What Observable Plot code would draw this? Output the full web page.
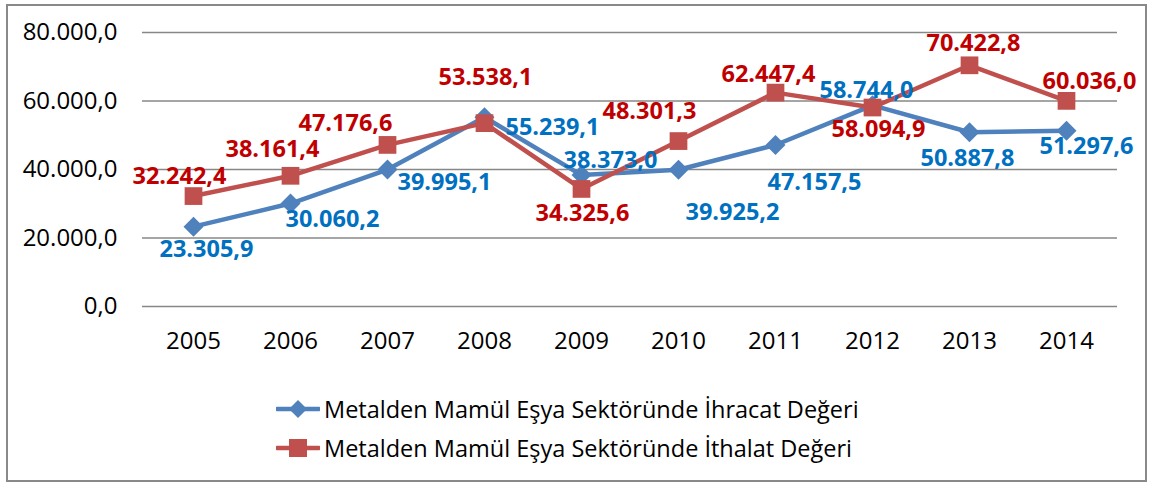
<!DOCTYPE html>
<html><head><meta charset="utf-8">
<script src="https://cdn.jsdelivr.net/npm/d3@7"></script>
<script src="https://cdn.jsdelivr.net/npm/@observablehq/plot@0.6"></script>
<style>
body{margin:0;background:#fff;font-family:"Open Sans",sans-serif;}
#frame{position:absolute;left:6px;top:4px;width:1137px;height:474px;border:2px solid #898989;}
#chart{position:absolute;left:0;top:0;}
#legend{position:absolute;left:276px;top:389px;font-family:"Open Sans",sans-serif;font-size:23.5px;color:#000;}
.row{display:flex;align-items:center;height:39px;}
.row svg{margin-right:4px;}
</style></head><body>
<div id="frame"></div><div id="chart"></div><div id="legend"></div>
<script>
const years = ["2005","2006","2007","2008","2009","2010","2011","2012","2013","2014"];
const exportValues = [23305.9, 30060.2, 39995.1, 55239.1, 38373.0, 39925.2, 47157.5, 58744.0, 50887.8, 51297.6];
const importValues = [32242.4, 38161.4, 47176.6, 53538.1, 34325.6, 48301.3, 62447.4, 58094.9, 70422.8, 60036.0];
const yTicks = [0, 20000, 40000, 60000, 80000];
const seriesNames = ["Metalden Mamül Eşya Sektöründe İhracat Değeri", "Metalden Mamül Eşya Sektöründe İthalat Değeri"];

// label placement offsets (pixels) — styling only
const exportLabelOffsets = [[13,23],[42,16],[57,13],[68,10],[29,-15],[54,43],[39,37],[-6,-15],[-2,26],[20,16]];
const importLabelOffsets = [[-14,-20],[-18,-26],[-42,-21],[1,-46],[1,25],[-29,-30],[-7,-18],[6,22],[4,-22],[23,-19]];

const blue = "#4F81BD", red = "#C0504D", blueText = "#0070C0", redText = "#C00000";

const tr = d3.formatLocale({decimal: ",", thousands: ".", grouping: [3], currency: ["", ""]});
const fmt = tr.format(",.1f");

const exportRows = years.map((y, i) => ({year: y, value: exportValues[i]}));
const importRows = years.map((y, i) => ({year: y, value: importValues[i]}));

const labelMarks = [];
exportRows.forEach((d, i) => labelMarks.push(Plot.text([d], {x: "year", y: "value", text: d => fmt(d.value), dx: exportLabelOffsets[i][0], dy: exportLabelOffsets[i][1], fill: blueText, fontWeight: "bold", fontSize: 23.5, textAnchor: "middle", lineAnchor: "middle"})));
importRows.forEach((d, i) => labelMarks.push(Plot.text([d], {x: "year", y: "value", text: d => fmt(d.value), dx: importLabelOffsets[i][0], dy: importLabelOffsets[i][1], fill: redText, fontWeight: "bold", fontSize: 23.5, textAnchor: "middle", lineAnchor: "middle"})));

const chart = Plot.plot({
  width: 1152,
  height: 370,
  marginLeft: 142,
  marginRight: 35,
  marginTop: 32,
  marginBottom: 64,
  style: {fontFamily: "Open Sans, sans-serif", fontSize: "24px", color: "#000", background: "transparent", overflow: "visible"},
  x: {type: "point", domain: years, padding: 0.5},
  y: {domain: [0, 80000]},
  marks: [
    Plot.gridY(yTicks, {stroke: "#878787", strokeOpacity: 1, strokeWidth: 1.6}),
    Plot.axisY(yTicks, {tickSize: 0, tickPadding: 25, tickFormat: fmt, label: null, fontSize: 24}),
    Plot.axisX({tickSize: 0, tickPadding: 25, label: null, fontSize: 24}),
    Plot.line(exportRows, {x: "year", y: "value", stroke: blue, strokeWidth: 4.5}),
    Plot.dot(exportRows, {x: "year", y: "value", symbol: "diamond2", r: 9, fill: blue, stroke: "none"}),
    Plot.line(importRows, {x: "year", y: "value", stroke: red, strokeWidth: 4.5}),
    Plot.dot(importRows, {x: "year", y: "value", symbol: "square", r: 10, fill: red, stroke: "none"}),
    ...labelMarks
  ]
});
document.getElementById("chart").appendChild(chart);

const legend = document.getElementById("legend");
const samples = [
  `<svg width="44" height="22"><line x1="1" y1="11" x2="43" y2="11" stroke="${blue}" stroke-width="4.5" stroke-linecap="round"/><path d="M22,2L31,11L22,20L13,11Z" fill="${blue}"/></svg>`,
  `<svg width="44" height="22"><line x1="1" y1="11" x2="43" y2="11" stroke="${red}" stroke-width="4.5" stroke-linecap="round"/><rect x="13" y="2" width="18" height="18" fill="${red}"/></svg>`
];
seriesNames.forEach((name, i) => {
  const row = document.createElement("div");
  row.className = "row";
  row.innerHTML = samples[i] + `<span>${name}</span>`;
  legend.appendChild(row);
});
</script>
</body></html>
